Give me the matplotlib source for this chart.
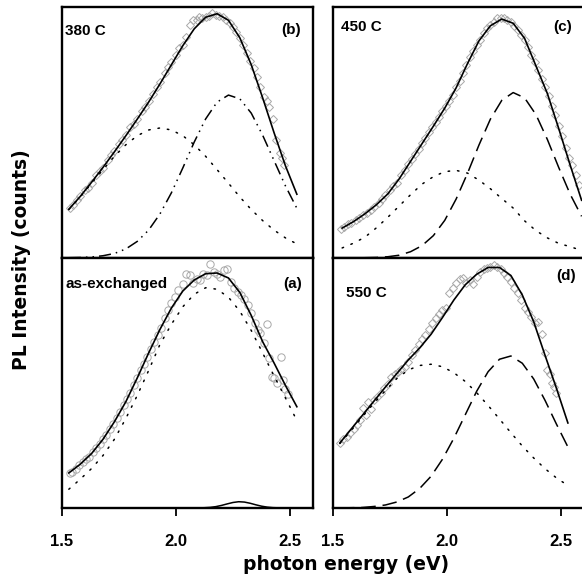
import matplotlib
matplotlib.use("Agg")
import matplotlib.pyplot as plt

# energy grids (eV) the fitted curves are read on
e_grid = [1.53, 1.58, 1.63, 1.68, 1.73, 1.78, 1.83, 1.88, 1.93, 1.98, 2.03,
          2.08, 2.13, 2.18, 2.23, 2.28, 2.33, 2.38, 2.43, 2.48, 2.53]
e_grid_c = [1.54, 1.59, 1.64, 1.69, 1.74, 1.79, 1.84, 1.89, 1.94, 1.99, 2.04,
            2.09, 2.14, 2.19, 2.24, 2.29, 2.34, 2.39, 2.44, 2.49, 2.54, 2.59]

# (a) as-exchanged
a_fit = [0.140, 0.175, 0.218, 0.275, 0.345, 0.425, 0.520, 0.620, 0.715, 0.800, 0.868,
         0.912, 0.937, 0.940, 0.920, 0.862, 0.770, 0.665, 0.580, 0.490, 0.405]
a_low = [0.075, 0.115, 0.158, 0.210, 0.275, 0.358, 0.450, 0.550, 0.655, 0.735, 0.805,
         0.855, 0.881, 0.875, 0.843, 0.787, 0.710, 0.620, 0.528, 0.440, 0.350]
a_bump_x = [1.53, 2.10, 2.125, 2.15, 2.175, 2.20, 2.225, 2.25, 2.275, 2.30, 2.325,
            2.35, 2.375, 2.40, 2.425, 2.45, 2.53]
a_bump_y = [0.0, 0.0003, 0.001, 0.0024, 0.0054, 0.0103, 0.0164, 0.022, 0.025, 0.0236,
            0.0189, 0.0127, 0.0072, 0.0034, 0.0013, 0.0005, 0.0]
a_data_x = [1.535, 1.545, 1.56, 1.575, 1.59, 1.605, 1.62, 1.635, 1.65, 1.665, 1.68,
            1.695, 1.71, 1.725, 1.74, 1.755, 1.77, 1.785, 1.80, 1.815, 1.83, 1.845,
            1.86, 1.875, 1.89, 1.905, 1.92, 1.935, 1.95, 1.965, 1.98, 1.995, 2.01,
            2.03, 2.045, 2.06, 2.075, 2.09, 2.105, 2.12, 2.135, 2.15, 2.165, 2.18,
            2.195, 2.21, 2.225, 2.24, 2.255, 2.27, 2.285, 2.30, 2.315, 2.33, 2.345,
            2.36, 2.37, 2.385, 2.40, 2.41, 2.42, 2.43, 2.445, 2.46, 2.47, 2.48, 2.49]
a_data_y = [0.14, 0.145, 0.155, 0.17, 0.185, 0.195, 0.205, 0.225, 0.24, 0.255, 0.275,
            0.29, 0.315, 0.335, 0.36, 0.385, 0.41, 0.435, 0.46, 0.49, 0.52, 0.55,
            0.575, 0.605, 0.635, 0.665, 0.69, 0.72, 0.76, 0.79, 0.82, 0.845, 0.87,
            0.895, 0.935, 0.93, 0.90, 0.915, 0.91, 0.935, 0.93, 0.975, 0.945, 0.935,
            0.925, 0.95, 0.955, 0.905, 0.88, 0.865, 0.85, 0.835, 0.81, 0.78, 0.74,
            0.71, 0.70, 0.66, 0.735, 0.60, 0.525, 0.52, 0.50, 0.605, 0.51, 0.475, 0.455]

# (b) 380 C
b_fit = [0.194, 0.245, 0.302, 0.361, 0.423, 0.487, 0.553, 0.621, 0.694, 0.770, 0.846,
         0.913, 0.959, 0.973, 0.947, 0.877, 0.770, 0.638, 0.499, 0.367, 0.254]
b_low = [0.193, 0.243, 0.298, 0.352, 0.405, 0.451, 0.487, 0.510, 0.518, 0.510, 0.487,
         0.451, 0.405, 0.352, 0.298, 0.243, 0.193, 0.149, 0.111, 0.080, 0.056]
b_high = [0.001, 0.002, 0.004, 0.009, 0.018, 0.036, 0.066, 0.111, 0.176, 0.260, 0.359,
          0.462, 0.554, 0.621, 0.649, 0.634, 0.577, 0.489, 0.388, 0.287, 0.198]
b_data_x = [1.535, 1.55, 1.565, 1.58, 1.60, 1.615, 1.63, 1.65, 1.665, 1.68, 1.70,
            1.715, 1.73, 1.75, 1.765, 1.78, 1.80, 1.815, 1.83, 1.85, 1.865, 1.88,
            1.90, 1.915, 1.93, 1.95, 1.965, 1.98, 2.00, 2.015, 2.03, 2.045, 2.06,
            2.075, 2.09, 2.10, 2.115, 2.13, 2.145, 2.16, 2.175, 2.19, 2.205, 2.22,
            2.235, 2.25, 2.265, 2.28, 2.295, 2.31, 2.325, 2.34, 2.355, 2.37, 2.385,
            2.40, 2.41, 2.425, 2.44, 2.455, 2.465, 2.475]
b_data_y = [0.20, 0.21, 0.23, 0.245, 0.27, 0.28, 0.30, 0.33, 0.345, 0.36, 0.39,
            0.41, 0.425, 0.455, 0.47, 0.49, 0.52, 0.535, 0.555, 0.585, 0.60, 0.625,
            0.655, 0.68, 0.70, 0.735, 0.76, 0.78, 0.81, 0.835, 0.85, 0.88, 0.93,
            0.95, 0.95, 0.96, 0.955, 0.96, 0.965, 0.975, 0.97, 0.965, 0.96, 0.95,
            0.935, 0.92, 0.90, 0.875, 0.85, 0.815, 0.785, 0.755, 0.72, 0.68, 0.64,
            0.625, 0.60, 0.555, 0.47, 0.42, 0.40, 0.37]

# (c) 450 C
c_fit = [0.119, 0.145, 0.176, 0.212, 0.255, 0.315, 0.385, 0.455, 0.525, 0.597, 0.678,
         0.775, 0.865, 0.925, 0.952, 0.935, 0.875, 0.765, 0.655, 0.515, 0.370, 0.230]
c_low = [0.040, 0.059, 0.083, 0.120, 0.162, 0.207, 0.252, 0.294, 0.324, 0.344, 0.349,
         0.338, 0.310, 0.276, 0.237, 0.199, 0.148, 0.109, 0.080, 0.058, 0.045, 0.030]
c_high = [0.000, 0.000, 0.001, 0.002, 0.005, 0.011, 0.025, 0.049, 0.089, 0.150, 0.235,
          0.338, 0.450, 0.553, 0.628, 0.659, 0.638, 0.571, 0.472, 0.360, 0.254, 0.166]
c_data_x = [1.535, 1.55, 1.565, 1.58, 1.60, 1.615, 1.63, 1.65, 1.665, 1.68, 1.70,
            1.715, 1.73, 1.75, 1.765, 1.78, 1.80, 1.815, 1.83, 1.845, 1.86, 1.875,
            1.89, 1.905, 1.92, 1.935, 1.95, 1.965, 1.98, 1.995, 2.01, 2.025, 2.04,
            2.055, 2.07, 2.085, 2.10, 2.115, 2.13, 2.145, 2.16, 2.175, 2.19, 2.205,
            2.22, 2.235, 2.25, 2.265, 2.28, 2.295, 2.31, 2.325, 2.34, 2.355, 2.37,
            2.385, 2.40, 2.415, 2.43, 2.445, 2.46, 2.475, 2.49, 2.505, 2.52, 2.535,
            2.55, 2.565, 2.58]
c_data_y = [0.115, 0.125, 0.135, 0.14, 0.15, 0.16, 0.17, 0.18, 0.19, 0.205, 0.22,
            0.235, 0.25, 0.27, 0.285, 0.30, 0.33, 0.35, 0.375, 0.395, 0.415, 0.435,
            0.46, 0.48, 0.50, 0.52, 0.54, 0.56, 0.585, 0.605, 0.625, 0.65, 0.68,
            0.705, 0.735, 0.77, 0.80, 0.825, 0.85, 0.87, 0.895, 0.915, 0.93, 0.94,
            0.955, 0.955, 0.955, 0.95, 0.94, 0.925, 0.91, 0.89, 0.87, 0.84, 0.81,
            0.78, 0.75, 0.715, 0.68, 0.645, 0.605, 0.57, 0.525, 0.485, 0.44, 0.40,
            0.37, 0.33, 0.29]

# (d) 550 C
d_fit = [0.260, 0.316, 0.372, 0.428, 0.484, 0.538, 0.592, 0.640, 0.695, 0.762, 0.832,
         0.893, 0.935, 0.962, 0.962, 0.930, 0.852, 0.745, 0.610, 0.478, 0.340]
d_low = [0.258, 0.310, 0.366, 0.420, 0.470, 0.518, 0.552, 0.570, 0.575, 0.565, 0.541,
         0.506, 0.461, 0.410, 0.356, 0.301, 0.248, 0.200, 0.157, 0.120, 0.090]
d_high = [0.000, 0.001, 0.002, 0.006, 0.012, 0.024, 0.044, 0.078, 0.127, 0.195, 0.279,
          0.373, 0.467, 0.545, 0.595, 0.608, 0.579, 0.516, 0.430, 0.335, 0.244]
d_data_x = [1.53, 1.545, 1.56, 1.575, 1.59, 1.605, 1.62, 1.63, 1.645, 1.655, 1.665,
            1.68, 1.695, 1.71, 1.725, 1.74, 1.755, 1.77, 1.785, 1.80, 1.815, 1.83,
            1.845, 1.86, 1.875, 1.89, 1.905, 1.92, 1.935, 1.95, 1.965, 1.98, 1.995,
            2.01, 2.025, 2.04, 2.055, 2.07, 2.085, 2.10, 2.115, 2.13, 2.145, 2.16,
            2.175, 2.19, 2.205, 2.22, 2.235, 2.25, 2.265, 2.28, 2.295, 2.31, 2.325,
            2.34, 2.355, 2.37, 2.385, 2.40, 2.415, 2.43, 2.44, 2.45, 2.46, 2.47, 2.48]
d_data_y = [0.26, 0.275, 0.285, 0.30, 0.315, 0.33, 0.35, 0.40, 0.37, 0.425, 0.395,
            0.43, 0.445, 0.46, 0.48, 0.495, 0.525, 0.535, 0.545, 0.555, 0.565, 0.585,
            0.61, 0.63, 0.655, 0.675, 0.69, 0.715, 0.74, 0.76, 0.775, 0.79, 0.80,
            0.86, 0.88, 0.90, 0.915, 0.92, 0.90, 0.91, 0.895, 0.925, 0.945, 0.955,
            0.96, 0.965, 0.97, 0.965, 0.955, 0.94, 0.925, 0.905, 0.88, 0.86, 0.83,
            0.80, 0.785, 0.765, 0.74, 0.745, 0.695, 0.62, 0.55, 0.535, 0.50, 0.485, 0.46]

xticks = [1.5, 2.0, 2.5]
xtick_labels = ["1.5", "2.0", "2.5"]

plt.rcParams["font.family"] = ["Liberation Sans", "DejaVu Sans"]
plt.rcParams["font.weight"] = "bold"

DOTS = (0, (1, 5.2))
DASH = (0, (9.5, 4.5))
DASH_DOT_DOT = (0, (7.9, 3.3, 1, 3.3, 1, 3.3))
GREY = "#a8a8a8"


def setup(ax, bottom):
    ax.set_xlim(1.5, 2.6)
    ax.set_ylim(0, 1)
    ax.set_yticks([])
    for s in ax.spines.values():
        s.set_linewidth(1.7)
    if bottom:
        ax.set_xticks(xticks)
        ax.set_xticklabels(xtick_labels)
        ax.tick_params(axis="x", direction="out", length=6, width=1.3,
                       pad=13, labelsize=12)
    else:
        ax.set_xticks([])


def panel(ax, e, data_x, data_y, marker, fit, low, high, high_style,
          label, label_pos, tag, tag_pos):
    ax.plot(data_x, data_y, linestyle="none", marker=marker,
            ms=5.3 if marker == "o" else 4, mfc="none", mec=GREY, mew=0.7)
    ax.plot(e, fit, color="black", lw=1.2)
    ax.plot(e, low, color="black", lw=1.1, linestyle=DOTS, dash_capstyle="round")
    if high is not None:
        ax.plot(e, high, color="black", lw=1.1, linestyle=high_style)
    ax.text(label_pos[0], label_pos[1], label, transform=ax.transAxes,
            fontsize=11, fontweight="bold", va="center", ha="left")
    ax.text(tag_pos[0], tag_pos[1], tag, transform=ax.transAxes,
            fontsize=11, fontweight="bold", va="center", ha="right")


fig = plt.figure(figsize=(5.82, 5.76), dpi=100)
w = 0.431
ax_b = fig.add_axes([0.1065, 0.5521, w, 0.4358])
ax_a = fig.add_axes([0.1065, 0.1181, w, 0.434])
ax_c = fig.add_axes([0.5722, 0.5521, w, 0.4358])
ax_d = fig.add_axes([0.5722, 0.1181, w, 0.434])

setup(ax_b, False)
setup(ax_c, False)
setup(ax_a, True)
setup(ax_d, True)

panel(ax_b, e_grid, b_data_x, b_data_y, "D", b_fit, b_low, b_high, DASH_DOT_DOT,
      "380 C", (0.014, 0.904), "(b)", (0.952, 0.908))
panel(ax_c, e_grid_c, c_data_x, c_data_y, "D", c_fit, c_low, c_high, DASH,
      "450 C", (0.031, 0.92), "(c)", (0.951, 0.92))
panel(ax_a, e_grid, a_data_x, a_data_y, "o", a_fit, a_low, None, None,
      "as-exchanged", (0.016, 0.896), "(a)", (0.955, 0.896))
ax_a.plot(a_bump_x, a_bump_y, color="black", lw=1.1)
panel(ax_d, e_grid, d_data_x, d_data_y, "D", d_fit, d_low, d_high, DASH,
      "550 C", (0.052, 0.86), "(d)", (0.968, 0.926))

fig.text(346 / 582, 1 - 564 / 576, "photon energy (eV)", ha="center", va="center",
         fontsize=13.5, fontweight="bold", family="DejaVu Sans")
fig.text(22 / 582, 1 - 260 / 576, "PL Intensity (counts)", ha="center", va="center",
         rotation=90, fontsize=13.5, fontweight="bold", family="DejaVu Sans")

fig.savefig("out.png", dpi=100)
